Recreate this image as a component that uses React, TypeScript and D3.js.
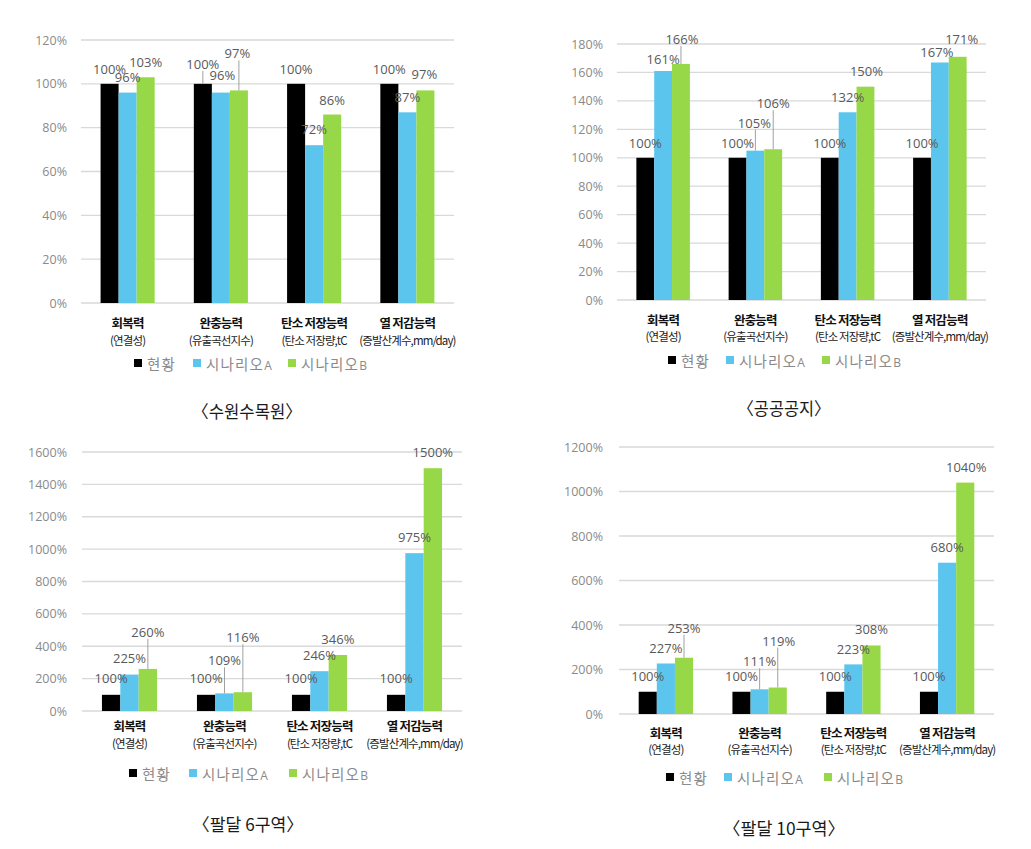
import React from "react";
import * as d3 from "d3";

// ---------- data ----------
const categories = ["회복력", "완충능력", "탄소 저장능력", "열 저감능력"];
const subCategories = ["(연결성)", "(유출곡선지수)", "(탄소 저장량,tC", "(증발산계수,mm/day)"];
const seriesNames = ["현황", "시나리오", "시나리오"];
const seriesSuffix = ["", "A", "B"];

const suwonCurrent = [100, 100, 100, 100];
const suwonA = [96, 96, 72, 87];
const suwonB = [103, 97, 86, 97];
const suwonTicks = [0, 20, 40, 60, 80, 100, 120];

const publicCurrent = [100, 100, 100, 100];
const publicA = [161, 105, 132, 167];
const publicB = [166, 106, 150, 171];
const publicTicks = [0, 20, 40, 60, 80, 100, 120, 140, 160, 180];

const paldal6Current = [100, 100, 100, 100];
const paldal6A = [225, 109, 246, 975];
const paldal6B = [260, 116, 346, 1500];
const paldal6Ticks = [0, 200, 400, 600, 800, 1000, 1200, 1400, 1600];

const paldal10Current = [100, 100, 100, 100];
const paldal10A = [227, 111, 223, 680];
const paldal10B = [253, 119, 308, 1040];
const paldal10Ticks = [0, 200, 400, 600, 800, 1000, 1200];

const captions = ["〈수원수목원〉", "〈공공공지〉", "〈팔달 6구역〉", "〈팔달 10구역〉"];

// ---------- styles / layout ----------
const colors = ["#000000", "#5BC5EE", "#97D848"];
const KR = "'Noto Sans CJK KR', 'Noto Sans', sans-serif";
const NUM = "'Open Sans', 'Noto Sans', sans-serif";

type Panel = {
  series: number[][];
  ticks: number[];
  caption: string;
  x0: number; x1: number; yTop: number; yBottom: number;
  tickX: number;
  lab1: number; lab2: number; legendY: number; legendX: number; legendGaps: number[];
  capX: number; capY: number; capW: number;
  offsets: number[][][]; // [series][category] = [dx, dy]
};

const panels: Panel[] = [
  {
    series: [suwonCurrent, suwonA, suwonB], ticks: suwonTicks, caption: captions[0],
    x0: 81, x1: 454, yTop: 40, yBottom: 303, tickX: 67,
    lab1: 19, lab2: 37, legendY: 60, legendX: 134, legendGaps: [0, 59, 154],
    capX: 247, capY: 410, capW: 110,
    offsets: [
      [[0, -15], [0, -20], [0, -15], [0, -15]],
      [[0, -16], [1.5, -18], [0, -16], [0, -15]],
      [[0, -15], [-1.5, -37], [0, -15], [-1, -16]],
    ],
  },
  {
    series: [publicCurrent, publicA, publicB], ticks: publicTicks, caption: captions[1],
    x0: 617, x1: 986, yTop: 44, yBottom: 300, tickX: 603,
    lab1: 19, lab2: 36, legendY: 60, legendX: 668, legendGaps: [0, 58, 154],
    capX: 784, capY: 407, capW: 93,
    offsets: [
      [[0, -15], [0, -15], [0, -15], [0, -15]],
      [[0, -12], [-1, -28], [0, -15], [-3, -10]],
      [[1, -25], [0, -46], [1, -16], [4, -18]],
    ],
  },
  {
    series: [paldal6Current, paldal6A, paldal6B], ticks: paldal6Ticks, caption: captions[2],
    x0: 82, x1: 462, yTop: 452, yBottom: 711, tickX: 67,
    lab1: 14, lab2: 32, legendY: 62, legendX: 129, legendGaps: [0, 60, 160],
    capX: 248, capY: 823, capW: 111,
    offsets: [
      [[0, -17], [0, -17], [0, -17], [0, -17]],
      [[0, -17], [0, -33], [0, -16], [0, -16]],
      [[0, -37], [0, -55], [0, -16], [0, -16]],
    ],
  },
  {
    series: [paldal10Current, paldal10A, paldal10B], ticks: paldal10Ticks, caption: captions[3],
    x0: 619, x1: 994, yTop: 447, yBottom: 714, tickX: 603,
    lab1: 18, lab2: 35, legendY: 63, legendX: 666, legendGaps: [0, 58, 158],
    capX: 784, capY: 827, capW: 122,
    offsets: [
      [[0, -16], [0, -16], [0, -16], [0, -16]],
      [[0, -15], [0, -28], [0, -15], [0, -16]],
      [[0, -30], [1, -47], [0, -16], [1, -16]],
    ],
  },
];

function ChartPanel({ p }: { p: Panel }) {
  const n = categories.length;
  const x = d3
    .scaleBand<number>()
    .domain(d3.range(n))
    .range([p.x0, p.x1])
    .paddingInner(0.42)
    .paddingOuter(0.21);
  const xs = d3
    .scaleBand<number>()
    .domain(d3.range(p.series.length))
    .range([0, x.bandwidth()])
    .padding(0);
  const y = d3
    .scaleLinear()
    .domain([0, d3.max(p.ticks) as number])
    .range([p.yBottom, p.yTop]);

  return (
    <g>
      {p.ticks.map((t) => (
        <g key={"t" + t}>
          <line x1={p.x0} x2={p.x1} y1={y(t)} y2={y(t)} stroke="#d9d9d9" strokeWidth={1.3} />
          <text
            x={p.tickX}
            y={y(t)}
            textAnchor="end"
            dominantBaseline="central"
            fontFamily={NUM}
            fontSize={12.5}
            fill="#8a8a8a"
          >
            {t + "%"}
          </text>
        </g>
      ))}
      {p.series.map((vals, si) =>
        vals.map((v, ci) => (
          <rect
            key={"b" + si + "-" + ci}
            x={(x(ci) as number) + (xs(si) as number)}
            y={y(v)}
            width={xs.bandwidth()}
            height={p.yBottom - y(v)}
            fill={colors[si]}
          />
        ))
      )}
      {p.series.map((vals, si) =>
        vals.map((v, ci) => {
          const cx = (x(ci) as number) + (xs(si) as number) + xs.bandwidth() / 2;
          const [dx, dy] = p.offsets[si][ci];
          const ly = y(v) + dy;
          return (
            <g key={"l" + si + "-" + ci}>
              {dy <= -20 && (
                <line x1={cx} x2={cx} y1={ly + 7} y2={y(v)} stroke="#a0a0a0" strokeWidth={1} />
              )}
              <text
                x={cx + dx}
                y={ly}
                textAnchor="middle"
                dominantBaseline="central"
                fontFamily={NUM}
                fontSize={13}
                fill="#595959"
              >
                {v + "%"}
              </text>
            </g>
          );
        })
      )}
      {categories.map((c, ci) => {
        const cx = (x(ci) as number) + x.bandwidth() / 2;
        return (
          <g key={"c" + ci}>
            <text
              x={cx}
              y={p.yBottom + p.lab1}
              textAnchor="middle"
              dominantBaseline="central"
              fontFamily={KR}
              fontWeight="bold"
              fontSize={12.5}
              letterSpacing={-0.8}
              fill="#111"
            >
              {c}
            </text>
            <text
              x={cx}
              y={p.yBottom + p.lab2}
              textAnchor="middle"
              dominantBaseline="central"
              fontFamily={KR}
              fontSize={11.5}
              letterSpacing={-0.9}
              fill="#222"
            >
              {subCategories[ci]}
            </text>
          </g>
        );
      })}
      {seriesNames.map((s, si) => {
        const lx = p.legendX + p.legendGaps[si];
        const ly = p.yBottom + p.legendY;
        return (
          <g key={"lg" + si}>
            <rect x={lx} y={ly - 4} width={8} height={8} fill={colors[si]} />
            <text
              x={lx + 13}
              y={ly}
              dominantBaseline="central"
              fontFamily={KR}
              fontSize={14.5}
              letterSpacing={1.2}
              fill="#8a8a8a"
            >
              {s}
              {seriesSuffix[si] && (
                <tspan fontFamily={NUM} fontSize={12} dy={1.5}>
                  {seriesSuffix[si]}
                </tspan>
              )}
            </text>
          </g>
        );
      })}
      <text
        x={p.capX}
        y={p.capY}
        textAnchor="middle"
        dominantBaseline="central"
        fontFamily={KR}
        fontSize={17.5}
        textLength={p.capW}
        lengthAdjust="spacingAndGlyphs"
        fill="#1a1a1a"
      >
        {p.caption}
      </text>
    </g>
  );
}

export default function App() {
  return (
    <div style={{ position: "absolute", left: 0, top: 0 }}>
      <svg width={1031} height={849} style={{ display: "block", background: "#fff" }}>
        <rect width={1031} height={849} fill="#fff" />
        {panels.map((p, i) => (
          <ChartPanel key={i} p={p} />
        ))}
      </svg>
    </div>
  );
}
